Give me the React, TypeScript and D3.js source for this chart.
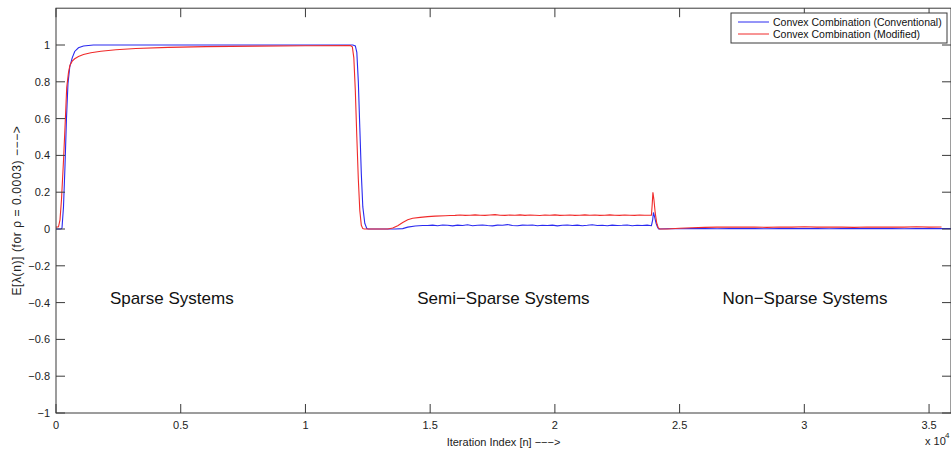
import React from 'react';
import * as d3 from 'd3';

// x values are iteration indices, y values are E[lambda(n)]
const xTicks = [0, 5000, 10000, 15000, 20000, 25000, 30000, 35000];
const yTicks = [-1, -0.8, -0.6, -0.4, -0.2, 0, 0.2, 0.4, 0.6, 0.8, 1];

// Convex Combination (Conventional)
const convHeadIter = [0, 200, 240, 300, 360, 420, 480, 550, 650, 750, 900, 1100, 1500, 3000, 6000, 9000, 11900, 12000, 12060, 12120, 12180, 12240, 12300, 12380, 12460, 12520, 13000, 13600, 13900, 14100, 14400, 14700];
const convHeadVal = [0, 0, 0.005, 0.12, 0.34, 0.6, 0.79, 0.88, 0.93, 0.965, 0.985, 0.995, 1, 1, 1, 1, 1, 0.995, 0.96, 0.8, 0.55, 0.3, 0.12, 0.03, 0.003, 0, 0, 0, 0.002, 0.01, 0.016, 0.019];
const convNoiseStart = 14900;
const convNoiseStep = 200;
const convNoiseVal = [
  0.019, 0.021, 0.018, 0.022, 0.020, 0.017, 0.021, 0.019, 0.023, 0.018,
  0.020, 0.022, 0.019, 0.017, 0.021, 0.020, 0.024, 0.019, 0.018, 0.021,
  0.020, 0.022, 0.018, 0.020, 0.019, 0.021, 0.017, 0.020, 0.022, 0.019,
  0.021, 0.018, 0.020, 0.023, 0.019, 0.020, 0.018, 0.021, 0.019, 0.020,
  0.022, 0.018, 0.020, 0.019, 0.021,
];
const convSpikeIter = [23870, 23920, 23950, 23990, 24060, 24120, 24160];
const convSpikeVal = [0.018, 0.05, 0.09, 0.07, 0.03, 0.008, 0];
const convTailStart = 24500;
const convTailStep = 500;
const convTailVal = [0.001, 0.001, 0.002, 0.002, 0.001, 0.002, 0.003, 0.002, 0.001, 0.002, 0.002, 0.003, 0.002, 0.001, 0.002, 0.002, 0.003, 0.002, 0.002, 0.001, 0.002, 0.002, 0.002, 0.002];

// Convex Combination (Modified)
const modHeadIter = [0, 100, 160, 220, 300, 360, 430, 500, 560, 650, 750, 900, 1100, 1400, 1800, 2400, 3200, 4500, 6000, 8000, 10000, 11800, 11880, 11940, 12000, 12060, 12120, 12180, 12240, 12300, 12360, 13300, 13500, 13700, 13900, 14100, 14300, 14600, 14900, 15200, 15600];
const modHeadVal = [0.01, 0.012, 0.05, 0.16, 0.37, 0.55, 0.77, 0.85, 0.89, 0.912, 0.925, 0.937, 0.948, 0.958, 0.966, 0.974, 0.981, 0.987, 0.991, 0.994, 0.996, 0.997, 0.99, 0.93, 0.75, 0.5, 0.27, 0.1, 0.02, 0.002, 0, 0, 0.005, 0.018, 0.035, 0.05, 0.058, 0.063, 0.067, 0.07, 0.072];
const modNoiseStart = 15800;
const modNoiseStep = 200;
const modNoiseVal = [
  0.073, 0.074, 0.076, 0.074, 0.075, 0.077, 0.075, 0.074, 0.076, 0.078,
  0.075, 0.074, 0.076, 0.075, 0.077, 0.074, 0.076, 0.075, 0.073, 0.076,
  0.075, 0.077, 0.074, 0.075, 0.076, 0.074, 0.075, 0.077, 0.075, 0.076,
  0.074, 0.075, 0.077, 0.075, 0.074, 0.076, 0.075, 0.074, 0.076, 0.075,
  0.075,
];
const modSpikeIter = [23870, 23900, 23930, 23970, 24020, 24080, 24140, 24200, 24500, 25000, 25500, 26000, 26500];
const modSpikeVal = [0.075, 0.13, 0.2, 0.16, 0.09, 0.035, 0.008, 0, 0, 0.004, 0.007, 0.009, 0.01];
const modTailStart = 27000;
const modTailStep = 500;
const modTailVal = [0.01, 0.011, 0.01, 0.009, 0.011, 0.01, 0.012, 0.01, 0.011, 0.01, 0.009, 0.011, 0.01, 0.011, 0.01, 0.012, 0.01, 0.011];

const legendLabels = ['Convex Combination (Conventional)', 'Convex Combination (Modified)'];
const seriesColors = ['#2a2af0', '#f02a2a'];

const regionLabels = ['Sparse Systems', 'Semi\u2212Sparse Systems', 'Non\u2212Sparse Systems'];
const regionIter = [2160, 14480, 26720];
const regionLevel = -0.41;

const FONT = "'Liberation Sans', Arial, Helvetica, sans-serif";

type Pt = [number, number];

function buildSeries(
  headIter: number[], headVal: number[],
  noiseStart: number, noiseStep: number, noiseVal: number[],
  spikeIter: number[], spikeVal: number[],
  tailStart: number, tailStep: number, tailVal: number[],
): Pt[] {
  const pts: Pt[] = [];
  headIter.forEach((n, i) => pts.push([n, headVal[i]]));
  noiseVal.forEach((v, i) => pts.push([noiseStart + i * noiseStep, v]));
  spikeIter.forEach((n, i) => pts.push([n, spikeVal[i]]));
  tailVal.forEach((v, i) => pts.push([tailStart + i * tailStep, v]));
  return pts;
}

const fmtX = (v: number) => String(v / 10000);
const fmtY = (v: number) => (v < 0 ? '\u2212' + String(-v) : String(v));

export default function App() {
  const W = 951;
  const H = 450;
  const x = d3.scaleLinear().domain([0, 35880]).range([56, 951]);
  const y = d3.scaleLinear().domain([-1, 1.2]).range([413, 8.2]);
  const tick = 9;

  const conv = buildSeries(convHeadIter, convHeadVal, convNoiseStart, convNoiseStep, convNoiseVal,
    convSpikeIter, convSpikeVal, convTailStart, convTailStep, convTailVal);
  const mod = buildSeries(modHeadIter, modHeadVal, modNoiseStart, modNoiseStep, modNoiseVal,
    modSpikeIter, modSpikeVal, modTailStart, modTailStep, modTailVal);

  const line = d3.line<Pt>().x(d => x(d[0])).y(d => y(d[1]));

  const [x0, x1] = x.range();
  const [yb, yt] = y.range();
  const axisColor = '#3a3a3a';

  return (
    <svg width={W} height={H} style={{ position: 'absolute', left: 0, top: 0, background: '#fff' }} fontFamily={FONT}>
      <rect x={0} y={0} width={W} height={H} fill="#fff" />

      {/* data */}
      <path d={line(conv) || ''} fill="none" stroke={seriesColors[0]} strokeWidth={1.1} />
      <path d={line(mod) || ''} fill="none" stroke={seriesColors[1]} strokeWidth={1.1} />

      {/* box */}
      <rect x={x0} y={yt} width={x1 - x0} height={yb - yt} fill="none" stroke={axisColor} strokeWidth={1} />

      {/* x ticks */}
      {xTicks.map(t => (
        <g key={'x' + t}>
          <line x1={x(t)} x2={x(t)} y1={yb} y2={yb - tick} stroke={axisColor} />
          <line x1={x(t)} x2={x(t)} y1={yt} y2={yt + tick} stroke={axisColor} />
          <text x={x(t)} y={429} textAnchor="middle" fontSize={11} fill="#222">{fmtX(t)}</text>
        </g>
      ))}

      {/* y ticks */}
      {yTicks.map(t => (
        <g key={'y' + t}>
          <line x1={x0} x2={x0 + tick} y1={y(t)} y2={y(t)} stroke={axisColor} />
          <line x1={x1} x2={x1 - tick} y1={y(t)} y2={y(t)} stroke={axisColor} />
          <text x={50} y={y(t) + 4} textAnchor="end" fontSize={11} fill="#222">{fmtY(t)}</text>
        </g>
      ))}

      {/* exponent */}
      <text x={925} y={445} fontSize={11} fill="#222">x 10</text>
      <text x={945} y={438} fontSize={8} fill="#222">4</text>

      {/* axis labels */}
      <text x={(x0 + x1) / 2} y={446} textAnchor="middle" fontSize={11} fill="#222">
        {'Iteration Index [n] \u2212\u2212\u2212>'}
      </text>
      <text transform={`translate(21,${(yt + yb) / 2}) rotate(-90)`} textAnchor="middle" fontSize={12} letterSpacing={0.6} fill="#222">
        {'E[\u03bb(n)] (for \u03c1 = 0.0003) \u2212\u2212\u2212>'}
      </text>

      {/* region annotations */}
      {regionLabels.map((s, i) => (
        <text key={s} x={x(regionIter[i])} y={y(regionLevel)} fontSize={17} fill="#111">{s}</text>
      ))}

      {/* legend */}
      <g>
        <rect x={731} y={13} width={216} height={30} fill="#fff" stroke={axisColor} />
        {legendLabels.map((s, i) => (
          <g key={s}>
            <line x1={738} x2={769} y1={22 + i * 12} y2={22 + i * 12} stroke={seriesColors[i]} strokeWidth={1} />
            <text x={773} y={26 + i * 12} fontSize={10.5} fill="#111">{s}</text>
          </g>
        ))}
      </g>
    </svg>
  );
}
